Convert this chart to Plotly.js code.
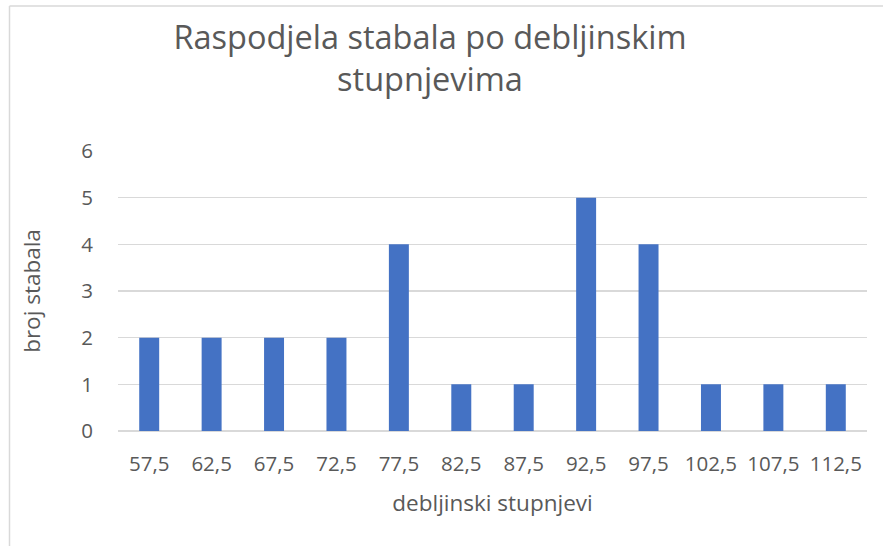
<!DOCTYPE html>
<html>
<head>
<meta charset="utf-8">
<script src="https://cdn.plot.ly/plotly-3.0.1.min.js"></script>
<style>
html,body{margin:0;padding:0;background:#fff;}
#chart{width:883px;height:546px;}
</style>
</head>
<body>
<div id="chart"></div>
<script>
const categories = ["57,5","62,5","67,5","72,5","77,5","82,5","87,5","92,5","97,5","102,5","107,5","112,5"];
const counts = [2,2,2,2,4,1,1,5,4,1,1,1];
const yTicks = [0,1,2,3,4,5,6];

const fontFam = '"Open Sans", "Noto Sans", sans-serif';
const txt = '#595959';
const grid = '#d9d9d9';

const L = 118, R = 16, T = 151, B = 115;
const W = 883, H = 546;
const pw = W - L - R, ph = H - T - B;
const px = v => (v - L) / pw;
const py = v => (H - B - v) / ph;

const data = [{
  type: 'bar',
  x: categories,
  y: counts,
  marker: {color: '#4472c4'},
  hoverinfo: 'x+y'
}];

const layout = {
  width: W, height: H,
  margin: {l: L, r: R, t: T, b: B, pad: 0},
  paper_bgcolor: '#fff',
  plot_bgcolor: '#fff',
  bargap: 0.68,
  showlegend: false,
  font: {family: fontFam, color: txt, size: 20},
  title: {
    text: 'Raspodjela stabala po debljinskim<br>stupnjevima',
    font: {family: fontFam, size: 32.5, color: txt},
    x: 430 / W, xanchor: 'center', xref: 'container',
    y: 1 - 49 / H, yanchor: 'top', yref: 'container'
  },
  xaxis: {
    type: 'category',
    tickfont: {size: 20.5, color: txt},
    showgrid: false, zeroline: false, showline: false,
    ticks: '',
    ticklabelstandoff: 18,
    title: {text: 'debljinski stupnjevi', font: {size: 22.5, color: txt}, standoff: 19}
  },
  yaxis: {
    range: [0, 6],
    tickvals: yTicks,
    tickfont: {size: 20.5, color: txt},
    showgrid: true, gridcolor: grid, gridwidth: 1.5,
    zeroline: true, zerolinecolor: grid, zerolinewidth: 1.5,
    showline: false, ticks: '',
    ticklabelstandoff: 24,
    title: {text: 'broj stabala', font: {size: 22.5, color: txt}, standoff: 34}
  },
  shapes: [
    {type: 'line', xref: 'paper', yref: 'paper', x0: px(9.5), x1: px(9.5), y0: py(6), y1: py(560), line: {color: grid, width: 1.5}},
    {type: 'line', xref: 'paper', yref: 'paper', x0: px(9.5), x1: px(900), y0: py(6), y1: py(6), line: {color: grid, width: 1.5}}
  ]
};

Plotly.newPlot('chart', data, layout, {displayModeBar: false, staticPlot: true});
</script>
</body>
</html>
